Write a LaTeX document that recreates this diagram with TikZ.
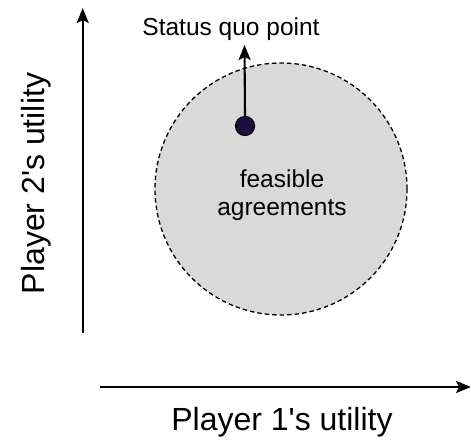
\documentclass[tikz,border=0pt]{standalone}
\usepackage{fontspec}
\setmainfont{Liberation Sans}
\usetikzlibrary{arrows.meta}
\definecolor{regionfill}{RGB}{217,217,217}
\definecolor{dotfill}{RGB}{30,14,62}
\begin{document}
\begin{tikzpicture}[x=1pt,y=-1pt,
  axis/.style={line width=2.1pt,-{Stealth[length=15pt,width=12pt,inset=3pt]}},
  axislabel/.style={font=\fontsize{32}{38}\selectfont,inner sep=0pt,anchor=base},
  smalllabel/.style={font=\fontsize{24.5}{28}\selectfont,inner sep=0pt,anchor=base},
  region/.style={circle,draw=black,fill=regionfill,dashed,dash pattern=on 4.5pt off 3pt,line width=1.3pt,minimum size=252pt,inner sep=0pt},
  sqdot/.style={circle,draw=black,fill=dotfill,line width=1.2pt,minimum size=19pt,inner sep=0pt},
  pointer/.style={line width=2.1pt,-{Stealth[length=15pt,width=12pt,inset=3pt]}}]
\useasboundingbox (0,0) rectangle (471,443);
% axes
\coordinate (yb) at (82.7,333);
\coordinate (yt) at (82.7,8);
\coordinate (xl) at (100,387);
\coordinate (xr) at (471,387);
\draw[axis] (yb) -- (yt);
\draw[axis] (xl) -- (xr);
% region
\node[region] (feas) at (281,189) {};
\node[smalllabel,align=center,anchor=center] (feastxt) at (282,195) {feasible\\agreements};
% status quo
\node[sqdot] (sq) at (245,126) {};
\coordinate (sqtip) at (244.5,45);
\draw[pointer] (sq.north) -- (sqtip);
\node[smalllabel] (sqlabel) at (231,36) {Status quo point};
% axis labels
\node[axislabel] (p1) at (282,430) {Player 1\textquotesingle s utility};
\node[axislabel,rotate=90] (p2) at (44,183.5) {Player 2\textquotesingle s utility};
\end{tikzpicture}
\end{document}
